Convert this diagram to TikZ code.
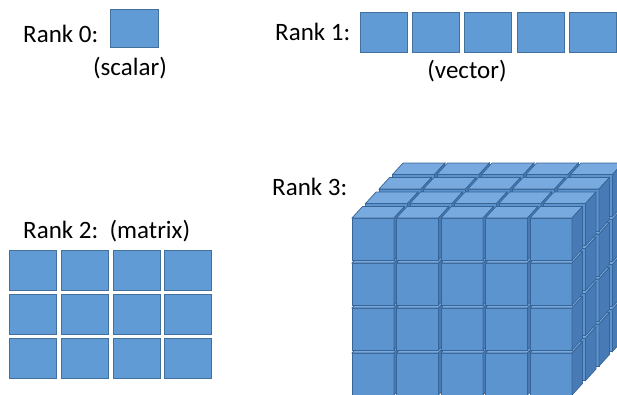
\documentclass[tikz,border=0pt]{standalone}
\usepackage{fontspec}
\setmainfont{Carlito}
\usepackage{tikz}
\usetikzlibrary{positioning}
\usepackage{xcolor}
\definecolor{CellBlue}{RGB}{96,155,214}
\definecolor{CellEdge}{RGB}{66,113,158}
\definecolor{CubeFront}{RGB}{92,148,208}
\definecolor{CubeTop}{RGB}{120,170,224}
\definecolor{CubeSide}{RGB}{72,122,182}
\definecolor{CubeEdge}{RGB}{56,100,150}

\begin{document}
\begin{tikzpicture}[
    x=1pt, y=-1pt,
    cell/.style={rectangle, draw=CellEdge, fill=CellBlue, line width=0.9pt,
                 minimum width=47pt, minimum height=40pt, inner sep=0pt},
    caption/.style={font=\fontsize{25}{28}\selectfont, inner sep=0pt},
    blockcube/.pic={
        \filldraw[fill=CubeFront, draw=CubeEdge, line width=0.7pt] (0,0) rectangle (42,42);
        \filldraw[fill=CubeTop, draw=CubeEdge, line width=0.7pt]
            (0,0) -- (10.5,-11.5) -- (52.5,-11.5) -- (42,0) -- cycle;
        \filldraw[fill=CubeSide, draw=CubeEdge, line width=0.7pt]
            (42,0) -- (52.5,-11.5) -- (52.5,30.5) -- (42,42) -- cycle;
    }
]
    \clip (0,0) rectangle (617,394);

    % rank 0
    \node[cell, minimum width=48pt, minimum height=38pt] (s0) at (134,28) {};
    \node[caption, anchor=base west] (r0) at (23,42) {Rank 0:};
    \node[caption, anchor=base] (scalar) at (130,75) {(scalar)};

    % rank 1
    \node[cell] (v1) at (383.5,32) {};
    \foreach \i [count=\j from 2] in {1,...,4}
        \node[cell, right=4.5pt of v\i] (v\j) {};
    \node[caption, anchor=base west] (r1) at (275,40) {Rank 1:};
    \node[caption, anchor=base] (vector) at (467,78) {(vector)};

    % rank 2
    \foreach \r in {0,1,2}
        \foreach \c in {0,...,3}
            \node[cell] (m\r\c) at ({33+51.8*\c},{270+44*\r}) {};
    \node[caption, anchor=base west] (r2) at (23,238) {Rank 2:\ \ (matrix)};

    % rank 3
    \node[caption, anchor=base west] (r3) at (272,195) {Rank 3:};
    \foreach \k in {3,2,1,0}
        \foreach \r in {3,2,1,0}
            \foreach \c in {0,...,4}
                \pic at ({352+44.5*\c+13.5*\k},{218+45*\r-14.5*\k}) {blockcube};
\end{tikzpicture}
\end{document}
